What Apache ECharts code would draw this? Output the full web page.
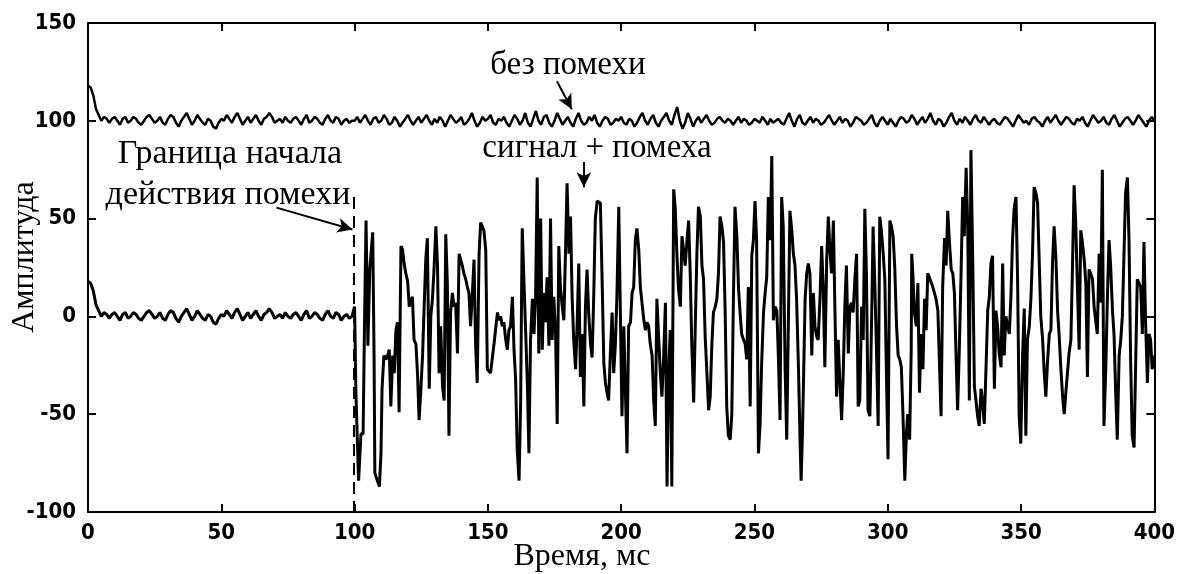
<!DOCTYPE html>
<html>
<head>
<meta charset="utf-8">
<script src="https://cdn.jsdelivr.net/npm/echarts@6/dist/echarts.min.js"></script>
<style>
  html, body { margin: 0; padding: 0; background: #fff; }
  #main { width: 1178px; height: 574px; }
</style>
</head>
<body>
<div id="main"></div>
<script>
// signal without interference, one value per ms (0..400)
var cleanSignal = [
  118,117,113,106,103,100,102,101,99,101,102,100,98,101,102,99,100,102,101,99,
  98,100,102,103,101,99,100,102,99,98,101,103,102,99,97,100,102,104,101,98,
  100,103,101,99,98,101,100,97,96,99,101,100,103,101,99,102,104,101,98,100,
  102,99,101,103,100,98,101,102,104,102,99,100,101,99,102,100,99,101,102,100,
  98,101,103,99,100,102,101,99,98,101,103,100,99,102,101,98,100,101,99,100,
  100,102,99,101,103,100,98,101,102,99,100,103,101,98,99,102,100,97,99,101,
  103,100,98,100,102,99,101,103,100,98,101,99,102,100,97,100,103,101,99,100,
  102,98,99,101,104,100,97,99,102,100,101,103,99,98,101,100,102,99,97,100,
  103,101,98,100,104,99,97,101,105,100,98,102,103,99,97,100,104,101,98,100,
  102,99,97,101,104,100,98,99,102,100,103,99,97,100,102,101,98,99,101,100,
  102,99,98,101,100,97,99,102,104,100,98,101,103,99,97,100,102,104,100,98,
  103,107,100,96,99,104,101,97,100,102,99,101,103,100,98,99,101,102,100,99,
  101,100,98,100,102,99,101,100,98,99,101,100,99,102,100,98,101,99,100,101,
  99,98,101,104,100,97,101,103,99,98,100,102,99,101,100,98,99,101,103,100,
  98,100,102,99,101,100,97,99,102,101,100,98,99,101,103,99,97,100,102,100,
  98,101,99,97,100,102,101,99,100,103,101,98,100,102,99,101,104,100,98,101,
  100,97,99,102,104,100,98,101,99,102,100,98,101,103,100,99,102,100,98,100,
  101,99,98,100,102,101,99,97,100,103,101,99,100,98,101,102,100,99,97,100,
  102,99,101,103,100,98,100,102,101,99,98,101,100,102,99,97,100,103,101,99,
  100,102,99,98,101,103,100,97,99,101,102,100,98,100,103,101,99,97,100,102,
  100
];

// signal + interference, before the interference starts (0..99 ms)
var noisyBefore = [
  18,17,13,6,3,0,2,1,-1,1,2,0,-2,1,2,-1,0,2,1,-1,
  -2,0,2,3,1,-1,0,2,-1,-2,1,3,2,-1,-3,0,2,4,1,-2,
  0,3,1,-1,-2,1,0,-3,-4,-1,1,0,3,1,-1,2,4,1,-2,0,
  2,-1,1,3,0,-2,1,2,4,2,-1,0,1,-1,2,0,-1,1,2,0,
  -2,1,3,-1,0,2,1,-1,-2,1,3,0,-1,2,1,-2,0,1,-1,0
];

// signal + interference after 100 ms: [time ms, amplitude]
var noisyAfter = [
  [100,5],[100.5,-39],[101.5,-84],[102.4,-60],[103.2,-60],[103.7,-6],[104.3,49],[105,-15],[105.7,24],[106.8,43],
  [107.3,-19],[107.6,-80],[108.3,-83],[109.3,-87],[109.9,-70],[110.3,-37],[111,-20],[111.8,-22],[112.4,-20],[113,-17],
  [113.6,-46],[114.3,-20],[114.9,-29],[115.5,-7],[116.1,-3],[116.7,-49],[117.4,36],[118,34],[118.6,27],[119.2,22],
  [119.9,18],[120.5,5],[121.1,8],[121.7,10],[122.3,-12],[123,-14],[123.6,-29],[124.2,-53],[124.8,-39],[125.5,-20],
  [126.1,5],[126.7,29],[127.3,40],[128,-37],[128.6,0],[129.2,9],[129.8,24],[130.5,46],[131.1,26],[131.7,-29],
  [132.3,-5],[133,-36],[133.6,-43],[134.2,42],[134.8,17],[135.4,-61],[136,2],[136.7,12],[137.3,5],[137.9,7],
  [138.6,-19],[139.2,32],[139.8,29],[140.4,26],[141,22],[141.7,19],[142.3,15],[142.9,12],[143.5,-5],[144.2,12],
  [144.8,29],[145.4,-15],[146,-34],[146.7,32],[147.3,48],[147.9,49],[148.5,44],[149.2,34],[149.8,-27],
  [150.4,-27],[151,-29],[152.3,-14],[153.6,2],[154.2,-2],[154.8,0],[155.4,-5],[156,-3],[156.7,-12],[157.3,-17],
  [157.9,-7],[158.5,-5],[159.2,10],[159.8,-17],[160.4,-32],[161,-68],[161.7,-84],[162.3,-43],[162.7,20],[162.9,45],
  [163.5,19],[164.2,-9],[164.8,-34],[165.4,-70],[166,-12],[166.7,9],[167.3,-9],[167.9,10],[168.5,71],[169.1,-19],
  [169.8,50],[170.4,-17],[171,12],[171.6,-3],[172.2,20],[172.9,-15],[173.5,50],[174.1,-12],[174.7,10],[175.4,-9],
  [176,-55],[176.6,36],[177.2,15],[177.9,5],[178.5,-2],[179.1,32],[179.7,68],[180.4,32],[181,51],[181.6,10],
  [182.2,-12],[182.9,-27],[183.5,-3],[184.1,27],[184.7,-31],[185.4,-9],[186,-46],[186.6,5],[187.2,24],[187.8,2],
  [188.5,-14],[189.1,-21],[189.7,10],[190.3,50],[191,59],[191.6,59],[192.2,58],[192.8,22],[193.5,-24],[194.1,-34],
  [194.7,-39],[195.3,-43],[196,-17],[196.6,2],[197.2,-29],[197.8,-15],[198.4,10],[199.1,56],[199.7,2],[200.3,-51],
  [201,-5],[201.6,-39],[202.2,-70],[202.8,-5],[203.5,-3],[204.1,12],[204.7,15],[205.3,39],[205.9,45],[206.6,34],
  [207.2,15],[207.8,7],[208.5,-2],[209.1,-7],[209.7,-3],[210.3,-5],[210.9,-14],[211.6,-20],[212.2,-43],[212.8,-56],
  [213.4,9],[214.1,-12],[214.7,-29],[215.3,-41],[215.9,-22],[216.6,7],[217.2,-87],[217.8,-29],[218.4,-7],[219,-87],
  [219.7,65],[220.3,55],[220.9,32],[221.5,14],[222.2,5],[222.8,41],[223.4,34],[224,26],[224.7,39],[225.3,49],
  [225.9,22],[226.5,-15],[227.2,-44],[227.8,-5],[228.4,32],[229,56],[229.7,51],[230.3,26],[230.9,19],[231.5,-10],
  [232.1,-27],[232.8,-48],[233.4,-41],[234,-15],[234.6,2],[235.3,5],[235.9,9],[236.5,22],[237.1,51],[237.8,46],
  [238.4,38],[239,3],[239.6,-46],[240.2,-61],[240.9,-63],[241.5,-50],[242.1,9],[242.7,56],[243.4,41],[244,15],
  [244.6,2],[245.2,-9],[245.9,-12],[246.5,-14],[247.1,-22],[247.7,15],[248.4,-46],[249,31],[249.6,39],[250.2,59],
  [250.8,39],[251.5,-70],[252.1,-55],[252.7,-24],[253.4,2],[254,12],[254.6,20],[255.2,61],[255.9,39],[256.5,82],
  [257.1,-2],[257.7,5],[258.4,3],[259,-22],[259.6,-53],[260.2,61],[260.8,46],[261.5,-27],[262.1,-63],[262.7,-5],
  [263.3,54],[264,44],[264.6,32],[265.2,26],[265.8,9],[266.5,-26],[267.1,-63],[267.5,-84],[268,-60],[268.6,-19],
  [269,9],[269.6,22],[270.2,27],[270.8,22],[271.5,-20],[272.1,12],[272.7,-5],[273.3,-10],[273.9,-12],[274.6,10],
  [275.2,36],[275.8,15],[276.4,-26],[277.1,29],[277.7,51],[278.3,34],[278.9,22],[279.6,49],[280.2,2],[280.8,-41],
  [281.4,-12],[282,-32],[282.7,-53],[283.3,-29],[283.9,5],[284.5,26],[285.2,-19],[285.8,5],[286.4,7],[287,2],
  [287.7,20],[288.3,32],[288.9,-46],[289.5,-43],[290.2,5],[290.8,-12],[291.4,55],[292,22],[292.6,-48],[293.3,-51],
  [293.9,-5],[294.5,46],[295.1,19],[295.8,-19],[296.4,-56],[297,51],[297.6,44],[298.3,32],[298.9,19],[299.5,-29],
  [300.1,-73],[300.8,49],[301.4,46],[302,41],[302.6,26],[303.3,-5],[303.9,-20],[304.5,-22],[305.1,-26],[305.7,-50],
  [306.4,-84],[307,-60],[307.5,-50],[308.2,-63],[308.8,-17],[309,32],[309.4,22],[310,2],[310.7,-5],[311.3,17],
  [311.9,-39],[312.5,-9],[313.2,-27],[313.8,9],[314.4,-7],[315,22],[315.6,20],[316.3,19],[316.9,15],[317.5,12],
  [318.1,9],[318.8,3],[319.4,2],[320,-51],[320.6,15],[321.3,40],[321.9,26],[322.5,54],[323.1,39],[323.8,24],
  [324.4,22],[325,12],[325.6,-19],[326.2,-48],[326.9,-14],[327.5,22],[328.1,61],[328.7,41],[329.4,76],[330,46],
  [330.6,-43],[331.2,85],[331.9,26],[332.5,-36],[333.1,-43],[333.7,-51],[334.3,-56],[335,-37],[335.6,-44],[336.2,-55],
  [336.8,-29],[337.5,3],[338.1,10],[338.7,27],[339.3,31],[340,-37],[340.6,3],[341.2,-5],[341.8,-19],[342.5,-26],
  [343.1,27],[343.7,-20],[344.3,0],[345,-5],[345.6,-9],[346.2,10],[346.8,39],[347.4,55],[348.1,61],[348.7,19],
  [349.3,-51],[349.9,-65],[350.6,-19],[351.2,4],[351.8,-61],[352.4,-12],[353.1,-5],[353.7,9],[354.3,32],[354.9,66],
  [355.6,63],[356.2,58],[356.8,29],[357.4,0],[358.1,-12],[358.7,-29],[359.3,-41],[359.9,-24],[360.6,-9],[361.2,-7],
  [361.8,27],[362.4,46],[363.1,29],[363.7,3],[364.3,-10],[364.9,-26],[365.6,-41],[366.2,-50],[366.8,-39],[367.4,-29],
  [368,-19],[368.7,-12],[369.3,26],[369.9,67],[370.5,48],[371.2,12],[371.8,-17],[372.4,44],[373,38],[373.7,29],
  [374.3,17],[374.9,-31],[375.5,24],[376.1,22],[376.8,19],[377.4,5],[378,-2],[378.6,-9],[379.3,32],[379.9,7],
  [380.5,75],[381.1,-56],[381.8,-26],[382.4,10],[383,39],[383.6,26],[384.3,3],[384.9,-10],[385.5,-39],[386.1,-63],
  [386.8,-20],[387.4,-12],[388,0],[388.6,31],[389.2,63],[389.9,71],[390.5,39],[391.1,-22],[391.7,-61],[392.4,-67],
  [393,-24],[393.6,19],[394.2,19],[394.9,15],[395.5,-9],[396.1,38],[396.7,-2],[397.4,-34],[398,-9],[398.6,-12],
  [399.2,-27],[400,-20]
];

var boundaryTime = 100;

var chartDom = document.getElementById('main');
var myChart = echarts.init(chartDom);
var option;

var tickFont = { color: '#000', fontFamily: 'Liberation Sans Narrow, DejaVu Sans Condensed, sans-serif', fontSize: 22, fontWeight: 'bold' };
var serif = 'Liberation Serif, Times New Roman, serif';

var axisBase = {
    type: 'value',
    axisLine: { show: true, onZero: false, lineStyle: { color: '#000', width: 2 } },
    axisTick: { show: true, inside: true, length: 8, lineStyle: { color: '#000', width: 2 } },
    splitLine: { show: false }
};

function label(text, x, y, size, rot) {
    return {
        type: 'text', x: x, y: y, rotation: rot || 0,
        style: { text: text, font: size + 'px ' + serif, fill: '#000', textAlign: 'center', textVerticalAlign: 'middle' }
    };
}

option = {
    animation: false,
    backgroundColor: '#fff',
    grid: { left: 88, right: 21, top: 23, bottom: 62 },
    xAxis: [
        Object.assign({}, axisBase, {
            min: 0, max: 400, interval: 50, position: 'bottom',
            axisLabel: Object.assign({ margin: 10 }, tickFont)
        }),
        Object.assign({}, axisBase, {
            min: 0, max: 400, interval: 50, position: 'top',
            axisLabel: { show: false }
        })
    ],
    yAxis: [
        Object.assign({}, axisBase, {
            min: -100, max: 150, interval: 50, position: 'left',
            axisLabel: Object.assign({ margin: 12 }, tickFont)
        }),
        Object.assign({}, axisBase, {
            min: -100, max: 150, interval: 50, position: 'right',
            axisLabel: { show: false }
        })
    ],
    graphic: [
        label('Амплитуда', 25, 257, 32, Math.PI / 2),
        label('Время, мс', 582, 557, 32),
        label('без помехи', 568, 65, 33),
        label('сигнал + помеха', 597, 148, 33),
        label('Граница начала', 230, 154, 34),
        label('действия помехи', 228, 195, 34)
    ],
    series: [
        {
            name: 'без помехи',
            type: 'line',
            showSymbol: false,
            data: cleanSignal.map(function (v, i) { return [i, v]; }),
            lineStyle: { color: '#000', width: 2.5 },
            markLine: {
                silent: true,
                symbol: ['none', 'arrow'],
                symbolSize: [11, 15],
                label: { show: false },
                lineStyle: { color: '#000', width: 2, type: 'solid' },
                data: [[{ coord: [175.9, 120.2] }, { coord: [181.5, 105.9] }]]
            }
        },
        {
            name: 'сигнал + помеха',
            type: 'line',
            showSymbol: false,
            data: noisyBefore.map(function (v, i) { return [i, v]; }).concat(noisyAfter),
            lineStyle: { color: '#000', width: 3 },
            markLine: {
                silent: true,
                symbol: ['none', 'arrow'],
                symbolSize: [11, 15],
                label: { show: false },
                lineStyle: { color: '#000', width: 2, type: 'solid' },
                data: [
                    [{ coord: [186, 79] }, { coord: [186, 66] }],
                    [{ coord: [70.7, 55.6] }, { coord: [99.2, 44.4] }],
                    [{ coord: [boundaryTime - 0.5, 61], symbol: 'none', lineStyle: { type: [12, 7], width: 2 } },
                     { coord: [boundaryTime - 0.5, -100], symbol: 'none' }]
                ]
            }
        }
    ]
};

option && myChart.setOption(option);
</script>
</body>
</html>
